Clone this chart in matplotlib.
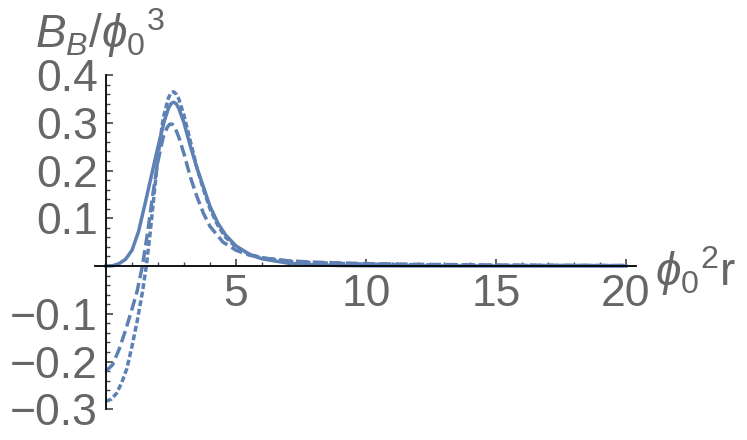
import matplotlib
matplotlib.use("Agg")
import matplotlib.pyplot as plt
from matplotlib.ticker import FixedLocator

plt.rcParams['font.family'] = ['Liberation Sans', 'DejaVu Sans']
plt.rcParams['mathtext.fontset'] = 'custom'
plt.rcParams['mathtext.rm'] = 'Liberation Sans'
plt.rcParams['mathtext.it'] = 'Liberation Sans:italic'

# solid curve
x_solid = [0, 0.25, 0.5, 0.75, 1.0, 1.25, 1.5, 1.75, 2.0, 2.25, 2.4, 2.5, 2.6, 2.7, 2.8,
           3.0, 3.25, 3.5, 3.75, 4.0, 4.3, 4.6, 5.0, 5.5, 6.0, 7.0, 8.0, 9.0, 10, 12, 15, 20]
y_solid = [0, 0.0005, 0.005, 0.014, 0.033, 0.072, 0.13, 0.19, 0.25, 0.305, 0.33, 0.34, 0.343, 0.34, 0.33,
           0.30, 0.25, 0.205, 0.165, 0.125, 0.09, 0.065, 0.042, 0.025, 0.015, 0.006, 0.0025, 0.001, 0.0005, 0.0001, 0, 0]

# long dashes
x_dash = [0, 0.25, 0.5, 0.75, 1.0, 1.2, 1.4, 1.6, 1.8, 2.0, 2.2, 2.35, 2.45, 2.55, 2.65, 2.8,
          3.0, 3.25, 3.5, 3.75, 4.0, 4.5, 5.0, 5.5, 6.0, 7.0, 8.0, 10, 12, 15, 20]
y_dash = [-0.22, -0.207, -0.175, -0.135, -0.09, -0.052, 0.0, 0.07, 0.15, 0.22, 0.27, 0.29, 0.297, 0.297, 0.29, 0.27,
          0.235, 0.185, 0.145, 0.11, 0.083, 0.05, 0.033, 0.023, 0.017, 0.011, 0.008, 0.005, 0.0035, 0.002, 0.001]

# short dashes
x_dot = [0, 0.2, 0.4, 0.6, 0.8, 1.0, 1.2, 1.4, 1.55, 1.7, 1.85, 2.0, 2.2, 2.4, 2.5, 2.6, 2.7, 2.8,
         3.0, 3.25, 3.5, 3.75, 4.0, 4.3, 4.6, 5.0, 5.5, 6.0, 7.0, 8.0, 10, 12, 15, 20]
y_dot = [-0.283, -0.279, -0.267, -0.245, -0.215, -0.168, -0.115, -0.055, 0.0, 0.07, 0.15, 0.23, 0.31, 0.352, 0.362, 0.365, 0.36, 0.35,
         0.315, 0.26, 0.205, 0.16, 0.12, 0.085, 0.06, 0.04, 0.025, 0.017, 0.01, 0.007, 0.004, 0.0025, 0.0015, 0.0008]

col = '#5E81B5'
gray = '#666666'

fig = plt.figure(figsize=(7.47, 4.40), dpi=100)
ax = fig.add_axes([0.1273, 0.0677, 0.7246, 0.764])

ax.plot(x_solid, y_solid, color=col, lw=2.5)
ax.plot(x_dash, y_dash, color=col, lw=2.5, dashes=(3.4, 1.4))
ax.plot(x_dot, y_dot, color=col, lw=2.5, dashes=(1.7, 0.8))

ax.set_xlim(-0.42, 20.4)
ax.set_ylim(-0.302, 0.402)

for s in ['top', 'right']:
    ax.spines[s].set_visible(False)
ax.spines['left'].set_position(('data', 0))
ax.spines['bottom'].set_position(('data', 0))
ax.spines['left'].set_bounds(-0.3, 0.4)
for s in ['left', 'bottom']:
    ax.spines[s].set_linewidth(1.3)
    ax.spines[s].set_zorder(3)

ax.xaxis.set_major_locator(FixedLocator([5, 10, 15, 20]))
ax.xaxis.set_minor_locator(FixedLocator([1, 2, 3, 4, 6, 7, 8, 9, 11, 12, 13, 14, 16, 17, 18, 19]))
ax.yaxis.set_major_locator(FixedLocator([-0.3, -0.2, -0.1, 0.1, 0.2, 0.3, 0.4]))
ax.yaxis.set_minor_locator(FixedLocator([i * 0.02 for i in range(-15, 21) if i % 5 != 0]))
ax.set_yticklabels(['\u22120.3', '\u22120.2', '\u22120.1', '0.1', '0.2', '0.3', '0.4'])

ax.tick_params(which='both', direction='in', colors='#444444', labelcolor=gray, labelsize=32)
ax.tick_params(which='major', length=5, width=1.2)
ax.tick_params(which='minor', length=3, width=1.0)
ax.tick_params(axis='x', pad=6)
ax.tick_params(axis='y', pad=6)

fig.text(35 / 747, 1 - 48 / 440, r'$B_B/\phi_0{}^3$', color=gray, fontsize=33, ha='left', va='baseline')
fig.text(655 / 747, 1 - 286 / 440, r'$\phi_0{}^2\mathrm{r}$', color=gray, fontsize=33, ha='left', va='baseline')

fig.savefig('out.png', dpi=100)
